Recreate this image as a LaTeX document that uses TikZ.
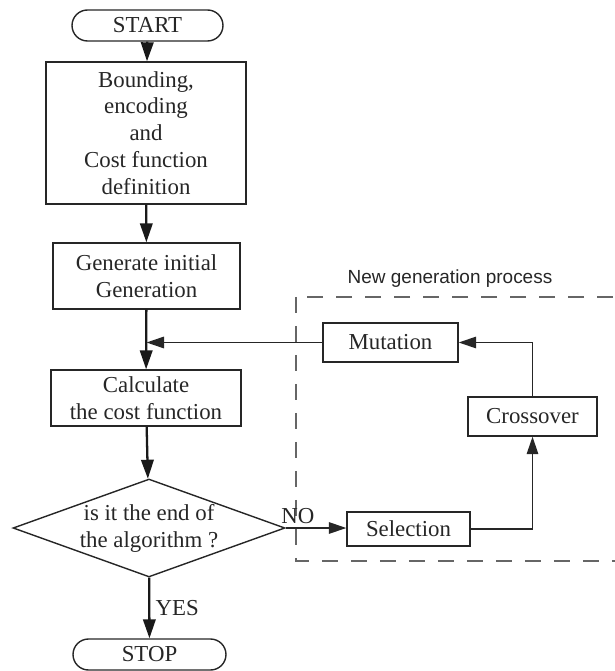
\documentclass[tikz,border=0pt]{standalone}
\usepackage{fontspec}
\setmainfont{Liberation Serif}
\newfontfamily\arialfont{Liberation Sans}
\usetikzlibrary{shapes.geometric,arrows.meta}
\tikzset{
  box/.style={draw=black!85, text=black!85, line width=0.8pt, inner sep=2pt, align=center,
    font=\fontsize{13}{15.3}\selectfont},
  terminal/.style={box, rounded corners=0.31cm},
  decision/.style={box, diamond, aspect=2.78, inner sep=0pt},
  flow/.style={draw=black!90, line width=1.3pt, -{Triangle[length=0.38cm,width=0.25cm]}},
  loopflow/.style={draw=black!85, line width=0.9pt, -{Triangle[length=0.35cm,width=0.23cm]}},
  groupbox/.style={draw=black!60, line width=1.1pt, dash pattern=on 0.32cm off 0.26cm},
}
\begin{document}
\begin{tikzpicture}[x=0.02cm,y=-0.02cm]
\useasboundingbox (0,0) rectangle (614,671);
% flow chart of the genetic algorithm
\node[terminal, minimum width=3.02cm, minimum height=0.62cm] (start) at (147.5,25.5) {START};
\node[box, minimum width=4cm, minimum height=2.84cm] (bound) at (146,133)
  {Bounding,\\encoding\\and\\Cost function\\definition};
\node[box, minimum width=3.74cm, minimum height=1.32cm] (gen) at (146.5,276)
  {Generate initial\\Generation};
\node[box, minimum width=3.8cm, minimum height=1.12cm] (calc) at (146,398)
  {Calculate\\the cost function};
\node[decision, minimum width=5.44cm, minimum height=1.96cm] (dec) at (149,528)
  {is it the end of\\the algorithm ?};
\node[terminal, minimum width=3.06cm, minimum height=0.62cm] (stop) at (149.5,654.5) {STOP};

\node[box, minimum width=2.7cm, minimum height=0.78cm] (mut) at (390.5,342.5) {Mutation};
\node[box, minimum width=2.58cm, minimum height=0.78cm] (cross) at (532.5,416.5) {Crossover};
\node[box, minimum width=2.46cm, minimum height=0.68cm] (sel) at (408.5,529) {Selection};

\draw[groupbox] (296,297) rectangle (640,561);
\node[font=\arialfont\fontsize{10.8}{13}\selectfont, text=black!85] (grouplabel) at (450,279)
  {New generation process};

\draw[flow] (start) -- (bound);
\draw[flow] (bound) -- (gen);
\draw[flow] (gen) -- (calc);
\draw[flow] (calc) -- (dec);
\draw[flow] (dec) -- node[right, text=black!85, font=\fontsize{13}{15}\selectfont, inner sep=3pt] {YES} (stop);

\draw[loopflow] (dec.east) -- node[pos=0.2, above, text=black!85, font=\fontsize{13}{15}\selectfont, inner sep=2pt] {NO}
  (dec.east -| sel.west);
\draw[loopflow] (sel.east) -| (cross.south);
\draw[loopflow] (cross.north) |- (mut.east);
\draw[loopflow] (mut.west) -- (mut.west -| gen.south);
\end{tikzpicture}
\end{document}
